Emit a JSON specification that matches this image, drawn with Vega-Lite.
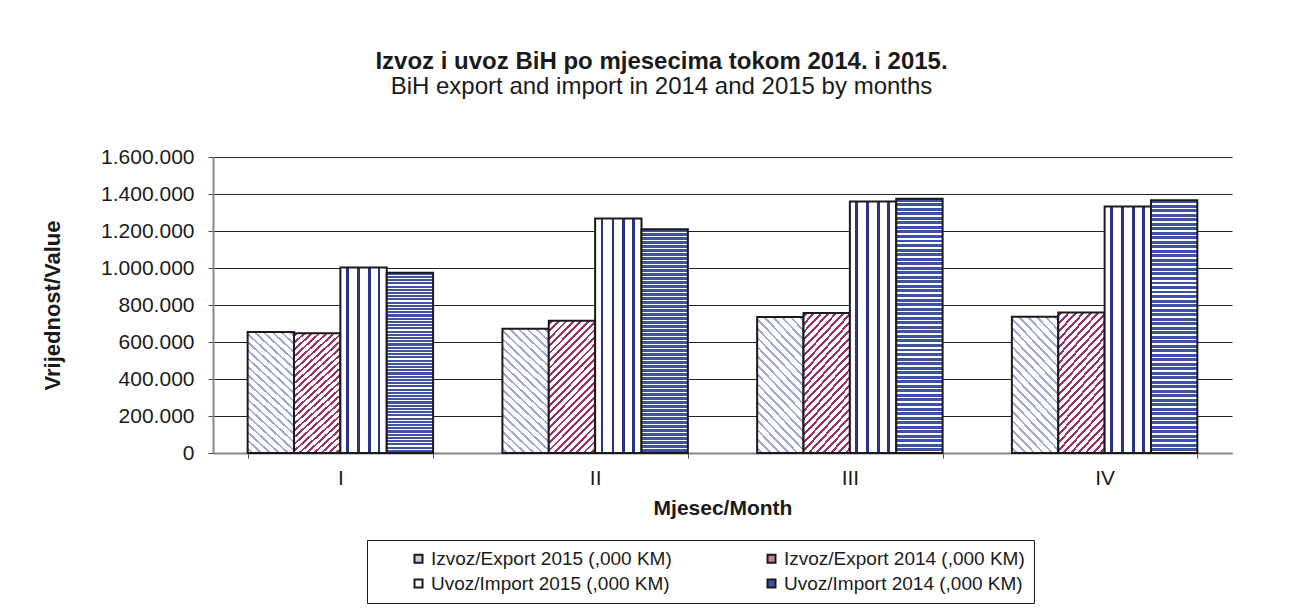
{
  "$schema": "https://vega.github.io/schema/vega-lite/v6.json",
  "width": 1019,
  "height": 296,
  "autosize": {"type": "none"},
  "padding": {"left": 213, "top": 157, "right": 58, "bottom": 163},
  "background": "white",
  "config": {
    "font": "Liberation Sans",
    "view": {"stroke": null},
    "legend": {"strokeWidth": 1}
  },
  "title": {
    "text": "Izvoz i uvoz BiH po mjesecima tokom 2014. i 2015.",
    "subtitle": "BiH export and import in 2014 and 2015 by months",
    "anchor": "middle",
    "frame": "group",
    "dx": -61,
    "offset": 47,
    "font": "Liberation Sans",
    "fontSize": 24,
    "fontWeight": "bold",
    "color": "#1a1a1a",
    "subtitleFont": "Liberation Sans",
    "subtitleFontSize": 24,
    "subtitleColor": "#1a1a1a",
    "subtitlePadding": 1
  },
  "data": {
    "values": [
      {"month": "I", "series": "Izvoz/Export 2015 (,000 KM)", "value": 654000},
      {"month": "I", "series": "Izvoz/Export 2014 (,000 KM)", "value": 647000},
      {"month": "I", "series": "Uvoz/Import 2015 (,000 KM)", "value": 1003000},
      {"month": "I", "series": "Uvoz/Import 2014 (,000 KM)", "value": 975000},
      {"month": "II", "series": "Izvoz/Export 2015 (,000 KM)", "value": 672000},
      {"month": "II", "series": "Izvoz/Export 2014 (,000 KM)", "value": 715000},
      {"month": "II", "series": "Uvoz/Import 2015 (,000 KM)", "value": 1268000},
      {"month": "II", "series": "Uvoz/Import 2014 (,000 KM)", "value": 1209000},
      {"month": "III", "series": "Izvoz/Export 2015 (,000 KM)", "value": 735000},
      {"month": "III", "series": "Izvoz/Export 2014 (,000 KM)", "value": 757000},
      {"month": "III", "series": "Uvoz/Import 2015 (,000 KM)", "value": 1360000},
      {"month": "III", "series": "Uvoz/Import 2014 (,000 KM)", "value": 1375000},
      {"month": "IV", "series": "Izvoz/Export 2015 (,000 KM)", "value": 737000},
      {"month": "IV", "series": "Izvoz/Export 2014 (,000 KM)", "value": 759000},
      {"month": "IV", "series": "Uvoz/Import 2015 (,000 KM)", "value": 1333000},
      {"month": "IV", "series": "Uvoz/Import 2014 (,000 KM)", "value": 1366000}
    ]
  },
  "encoding": {
    "x": {
      "field": "month",
      "type": "nominal",
      "sort": ["I", "II", "III", "IV"],
      "scale": {"paddingInner": 0.272, "paddingOuter": 0.136},
      "axis": {
        "title": "Mjesec/Month",
        "labelAngle": 0,
        "labelFontSize": 21,
        "labelColor": "#1a1a1a",
        "labelPadding": 9,
        "tickBand": "extent",
        "tickSize": 5,
        "tickColor": "#444444",
        "domainColor": "#888888",
        "domainWidth": 2,
        "titleFontSize": 21,
        "titleFontWeight": "bold",
        "titleColor": "#1a1a1a",
        "titlePadding": 9
      }
    },
    "xOffset": {
      "field": "series",
      "type": "nominal",
      "sort": ["Izvoz/Export 2015 (,000 KM)", "Izvoz/Export 2014 (,000 KM)", "Uvoz/Import 2015 (,000 KM)", "Uvoz/Import 2014 (,000 KM)"],
      "scale": {"paddingInner": 0, "paddingOuter": 0}
    },
    "y": {
      "field": "value",
      "type": "quantitative",
      "scale": {"domain": [0, 1600000]},
      "axis": {
        "title": "Vrijednost/Value",
        "values": [0, 200000, 400000, 600000, 800000, 1000000, 1200000, 1400000, 1600000],
        "labelExpr": "replace(replace(format(datum.value, ','), ',', '.'), ',', '.')",
        "labelFontSize": 21,
        "labelColor": "#1a1a1a",
        "labelPadding": 14,
        "tickSize": 5,
        "tickColor": "#444444",
        "domainColor": "#888888",
        "domainWidth": 2,
        "grid": true,
        "gridColor": "#222222",
        "gridWidth": 1,
        "titleFontSize": 22,
        "titleFontWeight": "bold",
        "titleColor": "#1a1a1a",
        "titlePadding": 36
      }
    }
  },
  "layer": [
    {
      "mark": {"type": "bar", "stroke": "#1a1a1a", "strokeWidth": 2, "fillOpacity": 1},
      "encoding": {
        "fill": {
          "condition": [
            {"test": "datum.series === 'Izvoz/Export 2015 (,000 KM)'", "value":
              {"gradient": "linear", "x1": 0, "y1": 1, "x2": 0.426, "y2": -0.2032, "stops": [
                {"offset": 0, "color": "#ffffff"},
                {"offset": 0.02, "color": "#ffffff"}, {"offset": 0.02, "color": "#a3a5d7"}, {"offset": 0.035, "color": "#a3a5d7"}, {"offset": 0.035, "color": "#ffffff"},
                {"offset": 0.07, "color": "#ffffff"}, {"offset": 0.07, "color": "#a3a5d7"}, {"offset": 0.085, "color": "#a3a5d7"}, {"offset": 0.085, "color": "#ffffff"},
                {"offset": 0.12, "color": "#ffffff"}, {"offset": 0.12, "color": "#a3a5d7"}, {"offset": 0.135, "color": "#a3a5d7"}, {"offset": 0.135, "color": "#ffffff"},
                {"offset": 0.17, "color": "#ffffff"}, {"offset": 0.17, "color": "#a3a5d7"}, {"offset": 0.185, "color": "#a3a5d7"}, {"offset": 0.185, "color": "#ffffff"},
                {"offset": 0.22, "color": "#ffffff"}, {"offset": 0.22, "color": "#a3a5d7"}, {"offset": 0.235, "color": "#a3a5d7"}, {"offset": 0.235, "color": "#ffffff"},
                {"offset": 0.27, "color": "#ffffff"}, {"offset": 0.27, "color": "#a3a5d7"}, {"offset": 0.285, "color": "#a3a5d7"}, {"offset": 0.285, "color": "#ffffff"},
                {"offset": 0.32, "color": "#ffffff"}, {"offset": 0.32, "color": "#a3a5d7"}, {"offset": 0.335, "color": "#a3a5d7"}, {"offset": 0.335, "color": "#ffffff"},
                {"offset": 0.37, "color": "#ffffff"}, {"offset": 0.37, "color": "#a3a5d7"}, {"offset": 0.385, "color": "#a3a5d7"}, {"offset": 0.385, "color": "#ffffff"},
                {"offset": 0.42, "color": "#ffffff"}, {"offset": 0.42, "color": "#a3a5d7"}, {"offset": 0.435, "color": "#a3a5d7"}, {"offset": 0.435, "color": "#ffffff"},
                {"offset": 0.47, "color": "#ffffff"}, {"offset": 0.47, "color": "#a3a5d7"}, {"offset": 0.485, "color": "#a3a5d7"}, {"offset": 0.485, "color": "#ffffff"},
                {"offset": 0.52, "color": "#ffffff"}, {"offset": 0.52, "color": "#a3a5d7"}, {"offset": 0.535, "color": "#a3a5d7"}, {"offset": 0.535, "color": "#ffffff"},
                {"offset": 0.57, "color": "#ffffff"}, {"offset": 0.57, "color": "#a3a5d7"}, {"offset": 0.585, "color": "#a3a5d7"}, {"offset": 0.585, "color": "#ffffff"},
                {"offset": 0.62, "color": "#ffffff"}, {"offset": 0.62, "color": "#a3a5d7"}, {"offset": 0.635, "color": "#a3a5d7"}, {"offset": 0.635, "color": "#ffffff"},
                {"offset": 0.67, "color": "#ffffff"}, {"offset": 0.67, "color": "#a3a5d7"}, {"offset": 0.685, "color": "#a3a5d7"}, {"offset": 0.685, "color": "#ffffff"},
                {"offset": 0.72, "color": "#ffffff"}, {"offset": 0.72, "color": "#a3a5d7"}, {"offset": 0.735, "color": "#a3a5d7"}, {"offset": 0.735, "color": "#ffffff"},
                {"offset": 0.77, "color": "#ffffff"}, {"offset": 0.77, "color": "#a3a5d7"}, {"offset": 0.785, "color": "#a3a5d7"}, {"offset": 0.785, "color": "#ffffff"},
                {"offset": 0.82, "color": "#ffffff"}, {"offset": 0.82, "color": "#a3a5d7"}, {"offset": 0.835, "color": "#a3a5d7"}, {"offset": 0.835, "color": "#ffffff"},
                {"offset": 0.87, "color": "#ffffff"}, {"offset": 0.87, "color": "#a3a5d7"}, {"offset": 0.885, "color": "#a3a5d7"}, {"offset": 0.885, "color": "#ffffff"},
                {"offset": 0.92, "color": "#ffffff"}, {"offset": 0.92, "color": "#a3a5d7"}, {"offset": 0.935, "color": "#a3a5d7"}, {"offset": 0.935, "color": "#ffffff"},
                {"offset": 0.97, "color": "#ffffff"}, {"offset": 0.97, "color": "#a3a5d7"}, {"offset": 0.985, "color": "#a3a5d7"}, {"offset": 0.985, "color": "#ffffff"},
                {"offset": 1, "color": "#ffffff"}
              ]}},
            {"test": "datum.series === 'Izvoz/Export 2014 (,000 KM)'", "value":
              {"gradient": "linear", "x1": 0, "y1": 0, "x2": 0.426, "y2": 1.2032, "stops": [
                {"offset": 0, "color": "#ffffff"},
                {"offset": 0.01, "color": "#ffffff"}, {"offset": 0.01, "color": "#993366"}, {"offset": 0.026, "color": "#993366"}, {"offset": 0.026, "color": "#ffffff"},
                {"offset": 0.0517, "color": "#ffffff"}, {"offset": 0.0517, "color": "#993366"}, {"offset": 0.0677, "color": "#993366"}, {"offset": 0.0677, "color": "#ffffff"},
                {"offset": 0.0933, "color": "#ffffff"}, {"offset": 0.0933, "color": "#993366"}, {"offset": 0.1093, "color": "#993366"}, {"offset": 0.1093, "color": "#ffffff"},
                {"offset": 0.135, "color": "#ffffff"}, {"offset": 0.135, "color": "#993366"}, {"offset": 0.151, "color": "#993366"}, {"offset": 0.151, "color": "#ffffff"},
                {"offset": 0.1767, "color": "#ffffff"}, {"offset": 0.1767, "color": "#993366"}, {"offset": 0.1927, "color": "#993366"}, {"offset": 0.1927, "color": "#ffffff"},
                {"offset": 0.2183, "color": "#ffffff"}, {"offset": 0.2183, "color": "#993366"}, {"offset": 0.2343, "color": "#993366"}, {"offset": 0.2343, "color": "#ffffff"},
                {"offset": 0.26, "color": "#ffffff"}, {"offset": 0.26, "color": "#993366"}, {"offset": 0.276, "color": "#993366"}, {"offset": 0.276, "color": "#ffffff"},
                {"offset": 0.3017, "color": "#ffffff"}, {"offset": 0.3017, "color": "#993366"}, {"offset": 0.3177, "color": "#993366"}, {"offset": 0.3177, "color": "#ffffff"},
                {"offset": 0.3433, "color": "#ffffff"}, {"offset": 0.3433, "color": "#993366"}, {"offset": 0.3593, "color": "#993366"}, {"offset": 0.3593, "color": "#ffffff"},
                {"offset": 0.385, "color": "#ffffff"}, {"offset": 0.385, "color": "#993366"}, {"offset": 0.401, "color": "#993366"}, {"offset": 0.401, "color": "#ffffff"},
                {"offset": 0.4267, "color": "#ffffff"}, {"offset": 0.4267, "color": "#993366"}, {"offset": 0.4427, "color": "#993366"}, {"offset": 0.4427, "color": "#ffffff"},
                {"offset": 0.4683, "color": "#ffffff"}, {"offset": 0.4683, "color": "#993366"}, {"offset": 0.4843, "color": "#993366"}, {"offset": 0.4843, "color": "#ffffff"},
                {"offset": 0.51, "color": "#ffffff"}, {"offset": 0.51, "color": "#993366"}, {"offset": 0.526, "color": "#993366"}, {"offset": 0.526, "color": "#ffffff"},
                {"offset": 0.5517, "color": "#ffffff"}, {"offset": 0.5517, "color": "#993366"}, {"offset": 0.5677, "color": "#993366"}, {"offset": 0.5677, "color": "#ffffff"},
                {"offset": 0.5933, "color": "#ffffff"}, {"offset": 0.5933, "color": "#993366"}, {"offset": 0.6093, "color": "#993366"}, {"offset": 0.6093, "color": "#ffffff"},
                {"offset": 0.635, "color": "#ffffff"}, {"offset": 0.635, "color": "#993366"}, {"offset": 0.651, "color": "#993366"}, {"offset": 0.651, "color": "#ffffff"},
                {"offset": 0.6767, "color": "#ffffff"}, {"offset": 0.6767, "color": "#993366"}, {"offset": 0.6927, "color": "#993366"}, {"offset": 0.6927, "color": "#ffffff"},
                {"offset": 0.7183, "color": "#ffffff"}, {"offset": 0.7183, "color": "#993366"}, {"offset": 0.7343, "color": "#993366"}, {"offset": 0.7343, "color": "#ffffff"},
                {"offset": 0.76, "color": "#ffffff"}, {"offset": 0.76, "color": "#993366"}, {"offset": 0.776, "color": "#993366"}, {"offset": 0.776, "color": "#ffffff"},
                {"offset": 0.8017, "color": "#ffffff"}, {"offset": 0.8017, "color": "#993366"}, {"offset": 0.8177, "color": "#993366"}, {"offset": 0.8177, "color": "#ffffff"},
                {"offset": 0.8433, "color": "#ffffff"}, {"offset": 0.8433, "color": "#993366"}, {"offset": 0.8593, "color": "#993366"}, {"offset": 0.8593, "color": "#ffffff"},
                {"offset": 0.885, "color": "#ffffff"}, {"offset": 0.885, "color": "#993366"}, {"offset": 0.901, "color": "#993366"}, {"offset": 0.901, "color": "#ffffff"},
                {"offset": 0.9267, "color": "#ffffff"}, {"offset": 0.9267, "color": "#993366"}, {"offset": 0.9427, "color": "#993366"}, {"offset": 0.9427, "color": "#ffffff"},
                {"offset": 0.9683, "color": "#ffffff"}, {"offset": 0.9683, "color": "#993366"}, {"offset": 0.9843, "color": "#993366"}, {"offset": 0.9843, "color": "#ffffff"},
                {"offset": 1, "color": "#ffffff"}
              ]}},
            {"test": "datum.series === 'Uvoz/Import 2015 (,000 KM)'", "value":
              {"gradient": "linear", "x1": 0, "y1": 0, "x2": 1, "y2": 0, "stops": [
                {"offset": 0, "color": "#ffffff"}, {"offset": 0.12, "color": "#ffffff"},
                {"offset": 0.12, "color": "#2d3185"}, {"offset": 0.18, "color": "#2d3185"},
                {"offset": 0.18, "color": "#ffffff"}, {"offset": 0.355, "color": "#ffffff"},
                {"offset": 0.355, "color": "#2d3185"}, {"offset": 0.415, "color": "#2d3185"},
                {"offset": 0.415, "color": "#ffffff"}, {"offset": 0.59, "color": "#ffffff"},
                {"offset": 0.59, "color": "#2d3185"}, {"offset": 0.65, "color": "#2d3185"},
                {"offset": 0.65, "color": "#ffffff"}, {"offset": 0.805, "color": "#ffffff"},
                {"offset": 0.805, "color": "#2d3185"}, {"offset": 0.865, "color": "#2d3185"},
                {"offset": 0.865, "color": "#ffffff"}, {"offset": 1, "color": "#ffffff"}
              ]}}
          ],
          "value":
              {"gradient": "linear", "x1": 0, "y1": 0, "x2": 0, "y2": 1, "stops": [
                {"offset": 0, "color": "#4052a6"}, {"offset": 0.0116, "color": "#4052a6"}, {"offset": 0.0116, "color": "#ffffff"}, {"offset": 0.0179, "color": "#ffffff"},
                {"offset": 0.0179, "color": "#4052a6"}, {"offset": 0.0295, "color": "#4052a6"}, {"offset": 0.0295, "color": "#ffffff"}, {"offset": 0.0357, "color": "#ffffff"},
                {"offset": 0.0357, "color": "#4052a6"}, {"offset": 0.0473, "color": "#4052a6"}, {"offset": 0.0473, "color": "#ffffff"}, {"offset": 0.0536, "color": "#ffffff"},
                {"offset": 0.0536, "color": "#4052a6"}, {"offset": 0.0652, "color": "#4052a6"}, {"offset": 0.0652, "color": "#ffffff"}, {"offset": 0.0714, "color": "#ffffff"},
                {"offset": 0.0714, "color": "#4052a6"}, {"offset": 0.083, "color": "#4052a6"}, {"offset": 0.083, "color": "#ffffff"}, {"offset": 0.0893, "color": "#ffffff"},
                {"offset": 0.0893, "color": "#4052a6"}, {"offset": 0.1009, "color": "#4052a6"}, {"offset": 0.1009, "color": "#ffffff"}, {"offset": 0.1071, "color": "#ffffff"},
                {"offset": 0.1071, "color": "#4052a6"}, {"offset": 0.1187, "color": "#4052a6"}, {"offset": 0.1187, "color": "#ffffff"}, {"offset": 0.125, "color": "#ffffff"},
                {"offset": 0.125, "color": "#4052a6"}, {"offset": 0.1366, "color": "#4052a6"}, {"offset": 0.1366, "color": "#ffffff"}, {"offset": 0.1429, "color": "#ffffff"},
                {"offset": 0.1429, "color": "#4052a6"}, {"offset": 0.1545, "color": "#4052a6"}, {"offset": 0.1545, "color": "#ffffff"}, {"offset": 0.1607, "color": "#ffffff"},
                {"offset": 0.1607, "color": "#4052a6"}, {"offset": 0.1723, "color": "#4052a6"}, {"offset": 0.1723, "color": "#ffffff"}, {"offset": 0.1786, "color": "#ffffff"},
                {"offset": 0.1786, "color": "#4052a6"}, {"offset": 0.1902, "color": "#4052a6"}, {"offset": 0.1902, "color": "#ffffff"}, {"offset": 0.1964, "color": "#ffffff"},
                {"offset": 0.1964, "color": "#4052a6"}, {"offset": 0.208, "color": "#4052a6"}, {"offset": 0.208, "color": "#ffffff"}, {"offset": 0.2143, "color": "#ffffff"},
                {"offset": 0.2143, "color": "#4052a6"}, {"offset": 0.2259, "color": "#4052a6"}, {"offset": 0.2259, "color": "#ffffff"}, {"offset": 0.2321, "color": "#ffffff"},
                {"offset": 0.2321, "color": "#4052a6"}, {"offset": 0.2437, "color": "#4052a6"}, {"offset": 0.2437, "color": "#ffffff"}, {"offset": 0.25, "color": "#ffffff"},
                {"offset": 0.25, "color": "#4052a6"}, {"offset": 0.2616, "color": "#4052a6"}, {"offset": 0.2616, "color": "#ffffff"}, {"offset": 0.2679, "color": "#ffffff"},
                {"offset": 0.2679, "color": "#4052a6"}, {"offset": 0.2795, "color": "#4052a6"}, {"offset": 0.2795, "color": "#ffffff"}, {"offset": 0.2857, "color": "#ffffff"},
                {"offset": 0.2857, "color": "#4052a6"}, {"offset": 0.2973, "color": "#4052a6"}, {"offset": 0.2973, "color": "#ffffff"}, {"offset": 0.3036, "color": "#ffffff"},
                {"offset": 0.3036, "color": "#4052a6"}, {"offset": 0.3152, "color": "#4052a6"}, {"offset": 0.3152, "color": "#ffffff"}, {"offset": 0.3214, "color": "#ffffff"},
                {"offset": 0.3214, "color": "#4052a6"}, {"offset": 0.333, "color": "#4052a6"}, {"offset": 0.333, "color": "#ffffff"}, {"offset": 0.3393, "color": "#ffffff"},
                {"offset": 0.3393, "color": "#4052a6"}, {"offset": 0.3509, "color": "#4052a6"}, {"offset": 0.3509, "color": "#ffffff"}, {"offset": 0.3571, "color": "#ffffff"},
                {"offset": 0.3571, "color": "#4052a6"}, {"offset": 0.3687, "color": "#4052a6"}, {"offset": 0.3687, "color": "#ffffff"}, {"offset": 0.375, "color": "#ffffff"},
                {"offset": 0.375, "color": "#4052a6"}, {"offset": 0.3866, "color": "#4052a6"}, {"offset": 0.3866, "color": "#ffffff"}, {"offset": 0.3929, "color": "#ffffff"},
                {"offset": 0.3929, "color": "#4052a6"}, {"offset": 0.4045, "color": "#4052a6"}, {"offset": 0.4045, "color": "#ffffff"}, {"offset": 0.4107, "color": "#ffffff"},
                {"offset": 0.4107, "color": "#4052a6"}, {"offset": 0.4223, "color": "#4052a6"}, {"offset": 0.4223, "color": "#ffffff"}, {"offset": 0.4286, "color": "#ffffff"},
                {"offset": 0.4286, "color": "#4052a6"}, {"offset": 0.4402, "color": "#4052a6"}, {"offset": 0.4402, "color": "#ffffff"}, {"offset": 0.4464, "color": "#ffffff"},
                {"offset": 0.4464, "color": "#4052a6"}, {"offset": 0.458, "color": "#4052a6"}, {"offset": 0.458, "color": "#ffffff"}, {"offset": 0.4643, "color": "#ffffff"},
                {"offset": 0.4643, "color": "#4052a6"}, {"offset": 0.4759, "color": "#4052a6"}, {"offset": 0.4759, "color": "#ffffff"}, {"offset": 0.4821, "color": "#ffffff"},
                {"offset": 0.4821, "color": "#4052a6"}, {"offset": 0.4937, "color": "#4052a6"}, {"offset": 0.4937, "color": "#ffffff"}, {"offset": 0.5, "color": "#ffffff"},
                {"offset": 0.5, "color": "#4052a6"}, {"offset": 0.5116, "color": "#4052a6"}, {"offset": 0.5116, "color": "#ffffff"}, {"offset": 0.5179, "color": "#ffffff"},
                {"offset": 0.5179, "color": "#4052a6"}, {"offset": 0.5295, "color": "#4052a6"}, {"offset": 0.5295, "color": "#ffffff"}, {"offset": 0.5357, "color": "#ffffff"},
                {"offset": 0.5357, "color": "#4052a6"}, {"offset": 0.5473, "color": "#4052a6"}, {"offset": 0.5473, "color": "#ffffff"}, {"offset": 0.5536, "color": "#ffffff"},
                {"offset": 0.5536, "color": "#4052a6"}, {"offset": 0.5652, "color": "#4052a6"}, {"offset": 0.5652, "color": "#ffffff"}, {"offset": 0.5714, "color": "#ffffff"},
                {"offset": 0.5714, "color": "#4052a6"}, {"offset": 0.583, "color": "#4052a6"}, {"offset": 0.583, "color": "#ffffff"}, {"offset": 0.5893, "color": "#ffffff"},
                {"offset": 0.5893, "color": "#4052a6"}, {"offset": 0.6009, "color": "#4052a6"}, {"offset": 0.6009, "color": "#ffffff"}, {"offset": 0.6071, "color": "#ffffff"},
                {"offset": 0.6071, "color": "#4052a6"}, {"offset": 0.6187, "color": "#4052a6"}, {"offset": 0.6187, "color": "#ffffff"}, {"offset": 0.625, "color": "#ffffff"},
                {"offset": 0.625, "color": "#4052a6"}, {"offset": 0.6366, "color": "#4052a6"}, {"offset": 0.6366, "color": "#ffffff"}, {"offset": 0.6429, "color": "#ffffff"},
                {"offset": 0.6429, "color": "#4052a6"}, {"offset": 0.6545, "color": "#4052a6"}, {"offset": 0.6545, "color": "#ffffff"}, {"offset": 0.6607, "color": "#ffffff"},
                {"offset": 0.6607, "color": "#4052a6"}, {"offset": 0.6723, "color": "#4052a6"}, {"offset": 0.6723, "color": "#ffffff"}, {"offset": 0.6786, "color": "#ffffff"},
                {"offset": 0.6786, "color": "#4052a6"}, {"offset": 0.6902, "color": "#4052a6"}, {"offset": 0.6902, "color": "#ffffff"}, {"offset": 0.6964, "color": "#ffffff"},
                {"offset": 0.6964, "color": "#4052a6"}, {"offset": 0.708, "color": "#4052a6"}, {"offset": 0.708, "color": "#ffffff"}, {"offset": 0.7143, "color": "#ffffff"},
                {"offset": 0.7143, "color": "#4052a6"}, {"offset": 0.7259, "color": "#4052a6"}, {"offset": 0.7259, "color": "#ffffff"}, {"offset": 0.7321, "color": "#ffffff"},
                {"offset": 0.7321, "color": "#4052a6"}, {"offset": 0.7437, "color": "#4052a6"}, {"offset": 0.7437, "color": "#ffffff"}, {"offset": 0.75, "color": "#ffffff"},
                {"offset": 0.75, "color": "#4052a6"}, {"offset": 0.7616, "color": "#4052a6"}, {"offset": 0.7616, "color": "#ffffff"}, {"offset": 0.7679, "color": "#ffffff"},
                {"offset": 0.7679, "color": "#4052a6"}, {"offset": 0.7795, "color": "#4052a6"}, {"offset": 0.7795, "color": "#ffffff"}, {"offset": 0.7857, "color": "#ffffff"},
                {"offset": 0.7857, "color": "#4052a6"}, {"offset": 0.7973, "color": "#4052a6"}, {"offset": 0.7973, "color": "#ffffff"}, {"offset": 0.8036, "color": "#ffffff"},
                {"offset": 0.8036, "color": "#4052a6"}, {"offset": 0.8152, "color": "#4052a6"}, {"offset": 0.8152, "color": "#ffffff"}, {"offset": 0.8214, "color": "#ffffff"},
                {"offset": 0.8214, "color": "#4052a6"}, {"offset": 0.833, "color": "#4052a6"}, {"offset": 0.833, "color": "#ffffff"}, {"offset": 0.8393, "color": "#ffffff"},
                {"offset": 0.8393, "color": "#4052a6"}, {"offset": 0.8509, "color": "#4052a6"}, {"offset": 0.8509, "color": "#ffffff"}, {"offset": 0.8571, "color": "#ffffff"},
                {"offset": 0.8571, "color": "#4052a6"}, {"offset": 0.8687, "color": "#4052a6"}, {"offset": 0.8687, "color": "#ffffff"}, {"offset": 0.875, "color": "#ffffff"},
                {"offset": 0.875, "color": "#4052a6"}, {"offset": 0.8866, "color": "#4052a6"}, {"offset": 0.8866, "color": "#ffffff"}, {"offset": 0.8929, "color": "#ffffff"},
                {"offset": 0.8929, "color": "#4052a6"}, {"offset": 0.9045, "color": "#4052a6"}, {"offset": 0.9045, "color": "#ffffff"}, {"offset": 0.9107, "color": "#ffffff"},
                {"offset": 0.9107, "color": "#4052a6"}, {"offset": 0.9223, "color": "#4052a6"}, {"offset": 0.9223, "color": "#ffffff"}, {"offset": 0.9286, "color": "#ffffff"},
                {"offset": 0.9286, "color": "#4052a6"}, {"offset": 0.9402, "color": "#4052a6"}, {"offset": 0.9402, "color": "#ffffff"}, {"offset": 0.9464, "color": "#ffffff"},
                {"offset": 0.9464, "color": "#4052a6"}, {"offset": 0.958, "color": "#4052a6"}, {"offset": 0.958, "color": "#ffffff"}, {"offset": 0.9643, "color": "#ffffff"},
                {"offset": 0.9643, "color": "#4052a6"}, {"offset": 0.9759, "color": "#4052a6"}, {"offset": 0.9759, "color": "#ffffff"}, {"offset": 0.9821, "color": "#ffffff"},
                {"offset": 0.9821, "color": "#4052a6"}, {"offset": 0.9937, "color": "#4052a6"}, {"offset": 0.9937, "color": "#ffffff"}, {"offset": 1, "color": "#ffffff"}
              ]}
        }
      }
    },
    {
      "mark": {"type": "bar", "stroke": "#1a1a1a", "strokeWidth": 2, "opacity": 0},
      "encoding": {
        "fill": {
          "field": "series",
          "type": "nominal",
          "scale": {
            "domain": ["Izvoz/Export 2015 (,000 KM)", "Izvoz/Export 2014 (,000 KM)", "Uvoz/Import 2015 (,000 KM)", "Uvoz/Import 2014 (,000 KM)"],
            "range": ["#c9cae8", "#c4809f", "#ffffff", "#4052a6"]
          },
          "legend": {
            "title": "      ",
            "titleOrient": "left",
            "titleFontSize": 19,
            "titlePadding": 33,
            "orient": "none",
            "direction": "horizontal",
            "legendX": 154,
            "legendY": 383,
            "columns": 2,
            "columnPadding": 90,
            "rowPadding": 5,
            "padding": 9,
            "strokeColor": "#1a1a1a",
            "fillColor": "#ffffff",
            "symbolType": "square",
            "symbolSize": 64,
            "symbolOpacity": 1,
            "symbolStrokeColor": "#1a1a1a",
            "symbolStrokeWidth": 2,
            "labelFontSize": 19,
            "labelColor": "#1a1a1a",
            "labelOffset": 3,
            "labelLimit": 400,
            "encode": {
              "symbols": {
                "update": {
                  "opacity": {"value": 1},
                  "fillOpacity": {"value": 1},
                  "strokeOpacity": {"value": 1},
                  "stroke": {"value": "#1a1a1a"}
                }
              }
            }
          }
        }
      }
    }
  ]
}
